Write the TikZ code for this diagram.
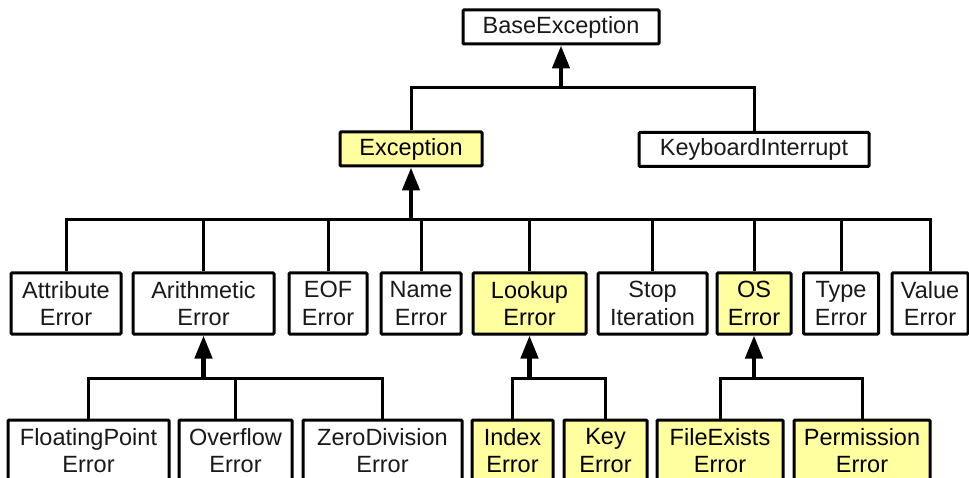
\documentclass[tikz,border=0pt]{standalone}
\usepackage{fontspec}
\setmainfont{Liberation Sans}
\usetikzlibrary{arrows.meta}

\definecolor{hilite}{RGB}{255,255,160}
\definecolor{ink}{RGB}{25,25,25}

\tikzset{
  cls/.style={draw=black, line width=3pt, fill=white, rounded corners=1pt,
    inner sep=0pt, align=center, text=ink,
    font=\fontsize{23.5}{27.5}\selectfont},
  hot/.style={cls, fill=hilite, text=black},
  lvltop/.style={minimum height=34pt},
  lvl/.style={minimum height=61pt},
  conn/.style={draw=black, line width=3pt},
  inherit/.style={draw=black, line width=4.5pt,
    -{Triangle[width=17pt,length=23pt]}},
}

\begin{document}
\begin{tikzpicture}[x=1pt, y=-1pt]
  \useasboundingbox (0,0) rectangle (969,478);
  \clip (0,0) rectangle (969,478);

  % top levels
  \node[cls, lvltop, minimum width=196pt] (base) at (561,27) {BaseException};
  \node[hot, lvltop, minimum width=142pt] (exc)  at (411,149) {Exception};
  \node[cls, lvltop, minimum width=230pt] (kbi)  at (754,149.5) {KeyboardInterrupt};

  % direct subclasses of Exception
  \node[cls, lvl, minimum width=110pt] (attr)   at (66,303.5)    {Attribute\\Error};
  \node[cls, lvl, minimum width=141pt] (arith)  at (203.5,303.5) {Arithmetic\\Error};
  \node[cls, lvl, minimum width=78pt]  (eof)    at (328,303.5)   {EOF\\Error};
  \node[cls, lvl, minimum width=80pt]  (name)   at (421,303.5)   {Name\\Error};
  \node[hot, lvl, minimum width=113pt] (lookup) at (529.5,303.5) {Lookup\\Error};
  \node[cls, lvl, minimum width=109pt] (stop)   at (652.5,303.5) {Stop\\Iteration};
  \node[hot, lvl, minimum width=74pt]  (os)     at (754,303.5)   {OS\\Error};
  \node[cls, lvl, minimum width=75pt]  (type)   at (841,303.5)   {Type\\Error};
  \node[cls, lvl, minimum width=76pt]  (value)  at (930,303.5)   {Value\\Error};

  % third level
  \node[cls, lvl, minimum width=161pt] (float) at (88.5,450.5)  {FloatingPoint\\Error};
  \node[cls, lvl, minimum width=113pt] (ovf)   at (235.5,450.5) {Overflow\\Error};
  \node[cls, lvl, minimum width=159pt] (zero)  at (382.5,450.5) {ZeroDivision\\Error};
  \node[hot, lvl, minimum width=81pt]  (index) at (512.5,450.5) {Index\\Error};
  \node[hot, lvl, minimum width=83pt]  (key)   at (605.5,450.5) {Key\\Error};
  \node[hot, lvl, minimum width=126pt] (fexi)  at (720,450.5)   {FileExists\\Error};
  \node[hot, lvl, minimum width=136pt] (perm)  at (862,450.5)   {Permission\\Error};

  % junction points of the buses
  \coordinate (jbase)   at (base.south |- 0,88);
  \coordinate (jexc)    at (exc.south |- 0,220);
  \coordinate (jarith)  at (arith.south |- 0,378);
  \coordinate (jlookup) at (lookup.south |- 0,378);
  \coordinate (jos)     at (os.south |- 0,378);

  % BaseException children
  \draw[conn] (exc.north) |- (jbase) -| (kbi.north);
  \draw[inherit] (jbase) -- (base.south);

  % Exception children
  \draw[conn] (attr.north) |- (jexc) -| (value.north);
  \foreach \c in {arith,eof,name,lookup,stop,os,type}
    \draw[conn] (\c.north) -- (\c.north |- jexc);
  \draw[inherit] (jexc) -- (exc.south);

  % ArithmeticError children
  \draw[conn] (float.north) |- (jarith) -| (zero.north);
  \draw[conn] (ovf.north) -- (ovf.north |- jarith);
  \draw[inherit] (jarith) -- (arith.south);

  % LookupError children
  \draw[conn] (index.north) |- (jlookup) -| (key.north);
  \draw[inherit] (jlookup) -- (lookup.south);

  % OSError children
  \draw[conn] (fexi.north) |- (jos) -| (perm.north);
  \draw[inherit] (jos) -- (os.south);
\end{tikzpicture}
\end{document}
